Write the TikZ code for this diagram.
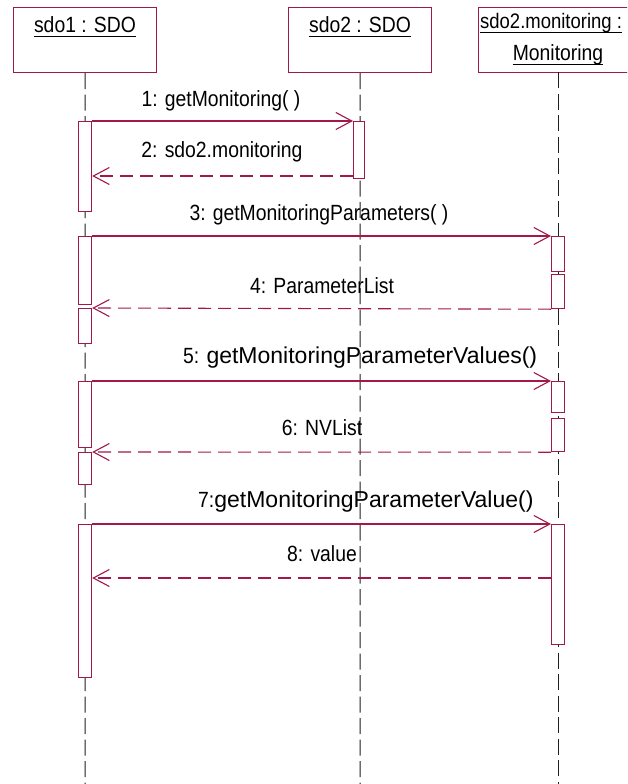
\documentclass[tikz,border=0pt]{standalone}
\usepackage{fontspec}
\setmainfont{Liberation Sans}[FakeStretch=0.88]
\newfontfamily\widefont{Liberation Sans}
\usetikzlibrary{arrows.meta}
\definecolor{crim}{RGB}{162,24,74}
\definecolor{lline}{RGB}{30,30,30}
\tikzset{
  hdr/.style={draw=crim, line width=1.2pt, fill=white, inner sep=0pt, anchor=north west},
  bar/.style={draw=crim, line width=1.2pt, fill=white, inner sep=0pt, minimum width=13pt, anchor=north west},
  life/.style={draw=lline, line width=1pt, dash pattern=on 16pt off 5.5pt},
  call/.style={draw=crim, line width=1.1pt, -{Straight Barb[length=16pt,width=17pt,line width=1.1pt]}},
  ret/.style={draw=crim, line width=1.1pt, dash pattern=on 13pt off 7pt, -{Straight Barb[length=16pt,width=17pt,line width=1.1pt]}},
  lbl/.style={inner sep=0pt, anchor=base, font=\fontsize{22}{25}\selectfont, text=black},
  htxt/.style={inner sep=0pt, anchor=base, font=\fontsize{22}{25}\selectfont, text=black},
}
\begin{document}
\begin{tikzpicture}[x=1pt,y=-1pt]
\useasboundingbox (0,0) rectangle (627,784);
\clip (0,0) rectangle (627,784);
\fill[white] (0,0) rectangle (627,784);
% header boxes
\node[hdr, minimum width=143pt, minimum height=65pt] (H1) at (13,7) {};
\node[hdr, minimum width=143pt, minimum height=65pt] (H2) at (288,7) {};
\node[hdr, minimum width=160pt, minimum height=65pt] (H3) at (478,7) {};
\coordinate (B1) at (85,784);
\coordinate (B2) at (360,784);
\coordinate (B3) at (558,784);
% header texts
\node[htxt] (T1) at (85,33) {sdo1 : SDO};
\node[htxt] (T2) at (360,33) {sdo2 : SDO};
\node[htxt, anchor=base west, font=\fontsize{21}{24}\selectfont] (T3) at (480,29) {sdo2.monitoring :};
\node[htxt] (T4) at (558,61) {Monitoring};
\foreach \t in {T1,T2,T3,T4}{
  \draw[black, line width=0.9pt] ([yshift=-3pt]\t.base west) -- ([yshift=-3pt]\t.base east);
}
% lifelines
\draw[life] (H1.south) -- (B1);
\draw[life] (H2.south) -- (B2);
\draw[life] (558,72) -- (B3);
% activation bars
\node[bar, minimum height=90pt] (A1) at (78,121) {};
\node[bar, minimum height=57pt, minimum width=11pt] (S1) at (353,121) {};
\node[bar, minimum height=68pt] (A2) at (78,236) {};
\node[bar, minimum height=35pt] (C1) at (551,236) {};
\node[bar, minimum height=34pt] (C2) at (551,274) {};
\node[bar, minimum height=35pt] (A3) at (78,308) {};
\node[bar, minimum height=66pt] (A4) at (78,381) {};
\node[bar, minimum height=31pt] (C3) at (551,381) {};
\node[bar, minimum height=33pt] (C4) at (551,418) {};
\node[bar, minimum height=32pt] (A5) at (78,452) {};
\node[bar, minimum height=153pt] (A6) at (78,524) {};
\node[bar, minimum height=120pt] (C5) at (551,524) {};
% messages
\coordinate (m2) at (0,176);
\coordinate (m8) at (0,578);
\draw[call] (A1.north east) -- (S1.north west);
\draw[ret] (S1.west |- m2) -- (A1.east |- m2);
\draw[call] (A2.north east) -- (C1.north west);
\draw[ret] (C2.south west) -- (A3.north east);
\draw[call] (A4.north east) -- (C3.north west);
\draw[ret] (C4.south west) -- (A5.north east);
\draw[call] (A6.north east) -- (C5.north west);
\draw[ret] (C5.west |- m8) -- (A6.east |- m8);
% labels
\node[lbl] (L1) at (221,106) {1: getMonitoring( )};
\node[lbl] (L2) at (222,157) {2: sdo2.monitoring};
\node[lbl] (L3) at (319,220) {3: getMonitoringParameters( )};
\node[lbl] (L4) at (322,293) {4: ParameterList};
\node[lbl, anchor=base west] (L5) at (183,363) {5: {\widefont\fontsize{23}{26}\selectfont getMonitoringParameterValues()}};
\node[lbl] (L6) at (322,435) {6: NVList};
\node[lbl, anchor=base west] (L7) at (198,507) {7:{\widefont\fontsize{23}{26}\selectfont getMonitoringParameterValue()}};
\node[lbl] (L8) at (322,561) {8: value};
\end{tikzpicture}
\end{document}
